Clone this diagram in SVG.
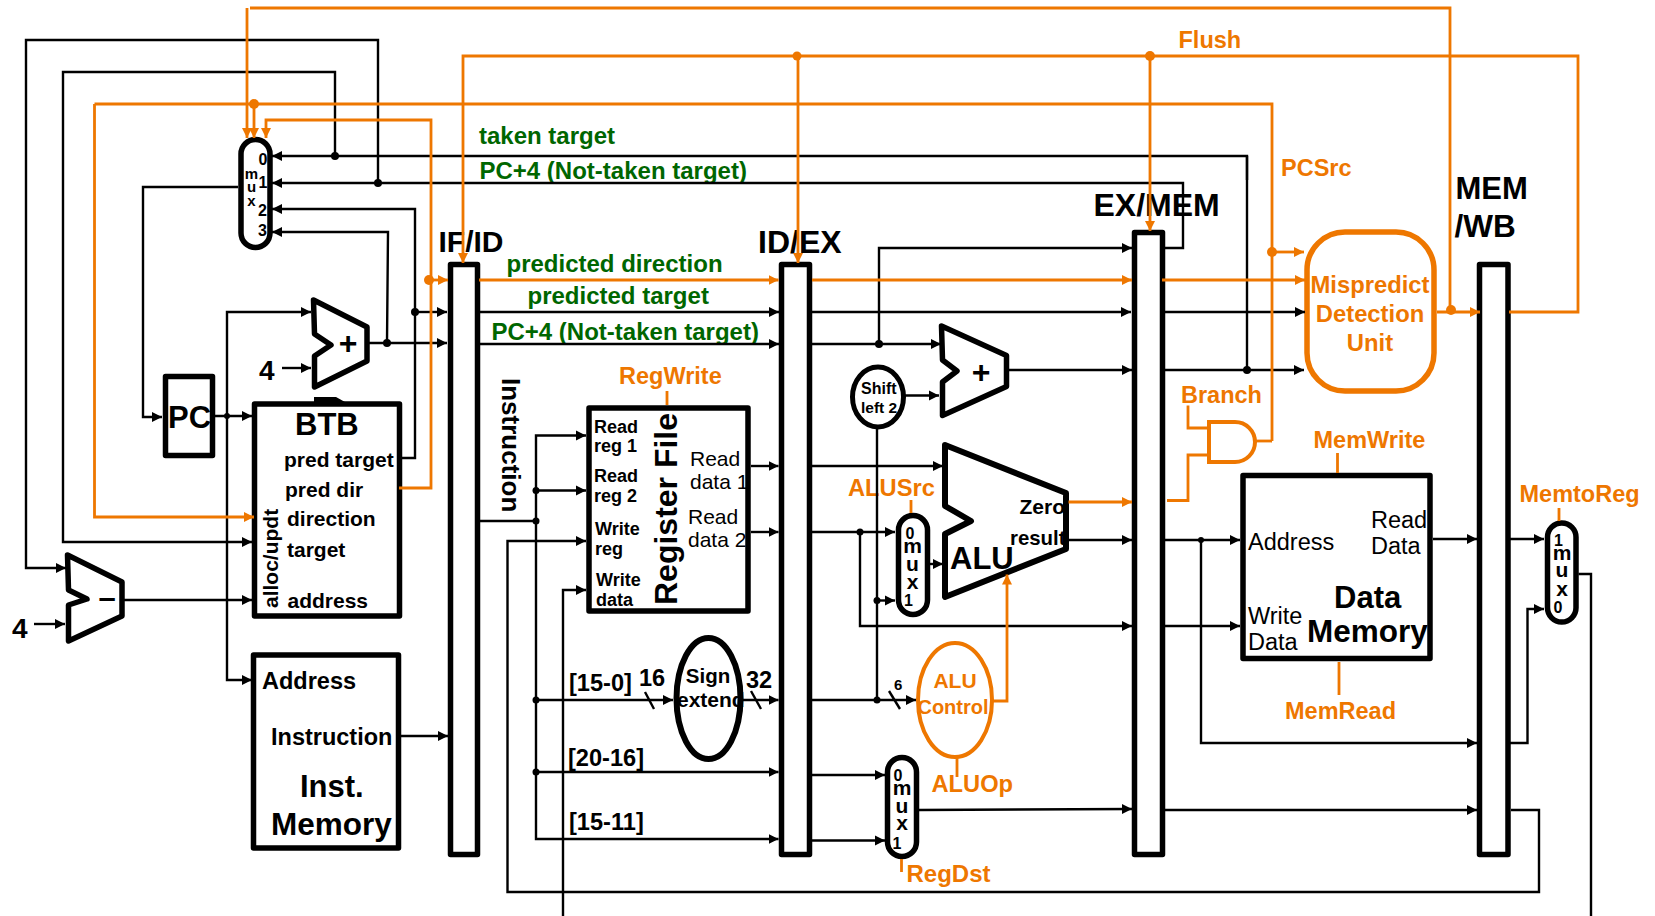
<svg xmlns="http://www.w3.org/2000/svg" width="1655" height="916" viewBox="0 0 1655 916">
<style>
text{font-family:"Liberation Sans",Arial,sans-serif;font-weight:700;fill:#000}
.o{fill:#EE7700}.g{fill:#006600}.r{font-weight:400}.m{text-anchor:middle}
.box{fill:#fff;stroke:#000;stroke-width:5.5;stroke-linejoin:round}
.obox{fill:#fff;stroke:#EE7700;stroke-width:5.5}
.k,.kn{fill:none;stroke:#000;stroke-width:2.4}
.k{marker-end:url(#ka)}
.y,.yn{fill:none;stroke:#EE7700;stroke-width:2.8}
.y{marker-end:url(#ya)}
.kd{fill:#000}.yd{fill:#EE7700}
</style>
<defs>
<marker id="ka" markerUnits="userSpaceOnUse" markerWidth="11" markerHeight="11" refX="10" refY="5.5" orient="auto"><path d="M0,0.5L10,5.5L0,10.5Z" fill="#000"/></marker>
<marker id="ya" markerUnits="userSpaceOnUse" markerWidth="11" markerHeight="11" refX="10" refY="5.5" orient="auto"><path d="M0,0.5L10,5.5L0,10.5Z" fill="#EE7700"/></marker>
</defs>
<rect width="1655" height="916" fill="#fff"/>

<g id="branch-mux"><rect class="box" x="241" y="139.5" width="29" height="108" rx="14.5"/>
<g font-size="16"><text class="m" x="263" y="165">0</text><text class="m" x="263" y="188">1</text><text class="m" x="262.5" y="216">2</text><text class="m" x="262.5" y="236">3</text></g>
<g font-size="15"><text class="m" x="251.5" y="179">m</text><text class="m" x="251.5" y="192">u</text><text class="m" x="251.5" y="206">x</text></g></g>

<g id="pc-adder"><polygon class="box" points="313.5,300 367,327 367,361 314.5,387 314.5,356 331,345 314.5,334"/><text class="m" x="348" y="354" font-size="32">+</text></g>
<g id="four-a"><text x="259" y="380" font-size="28">4</text></g>

<g id="pc"><rect class="box" x="165.5" y="376.5" width="47" height="79"/><text x="168" y="428" font-size="31">PC</text></g>
<g id="btb-mark"><path d="M314,397H336L345,402H314Z" fill="#000"/></g>
<g id="btb"><rect class="box" x="254.5" y="404" width="145" height="212"/>
<text x="295" y="435" font-size="31">BTB</text>
<g font-size="21"><text x="284" y="467">pred target</text><text x="285" y="497">pred dir</text><text x="287" y="526">direction</text><text x="287" y="557">target</text><text x="287.5" y="608">address</text><text transform="translate(278,608) rotate(-90)">alloc/updt</text></g></g>

<g id="sub"><polygon class="box" points="67.5,555 122,582 122,616 68.5,641 68.5,605 87,599 68.5,590"/><text class="m" x="107" y="608" font-size="31">–</text></g>
<g id="four-b"><text x="12" y="638" font-size="28">4</text></g>

<g id="inst-mem"><rect class="box" x="253.5" y="655" width="145" height="193"/>
<text x="262" y="689" font-size="23.5">Address</text><text x="271" y="745" font-size="23.5">Instruction</text><text x="300" y="797" font-size="31">Inst.</text><text x="271" y="835" font-size="31.5">Memory</text></g>

<g id="if-id"><rect class="box" x="450.5" y="264.5" width="27" height="590"/><text x="438.5" y="252" font-size="30">IF/ID</text></g>
<g id="id-ex"><rect class="box" x="781.5" y="264.5" width="28" height="590"/><text x="758" y="253" font-size="32">ID/EX</text></g>
<g id="ex-mem"><rect class="box" x="1134.5" y="232.5" width="28" height="622"/><text x="1093.5" y="216" font-size="32">EX/MEM</text></g>
<g id="mem-wb"><rect class="box" x="1479.5" y="264.5" width="28.5" height="590"/><text x="1455.5" y="199" font-size="31">MEM</text><text x="1454.5" y="237" font-size="31.5">/WB</text></g>

<g id="instruction-label"><text transform="translate(502,378) rotate(90)" font-size="26">Instruction</text></g>

<g id="reg-file"><rect class="box" x="589" y="408" width="159" height="203"/>
<g font-size="18"><text x="594" y="432.5">Read</text><text x="594" y="452">reg 1</text><text x="594" y="482">Read</text><text x="594" y="502">reg 2</text><text x="595" y="534.5">Write</text><text x="595" y="555">reg</text><text x="596" y="586">Write</text><text x="596" y="606">data</text></g>
<text transform="translate(677,605) rotate(-90)" font-size="32">Register File</text>
<g font-size="21"><text class="r" x="690" y="466">Read</text><text class="r" x="690" y="489">data 1</text><text class="r" x="688" y="524">Read</text><text class="r" x="688" y="547">data 2</text></g></g>
<g id="regwrite"><text class="o" x="619" y="384" font-size="23.5">RegWrite</text></g>

<g id="sign-extend"><ellipse cx="708.5" cy="698.5" rx="32" ry="60.5" fill="#fff" stroke="#000" stroke-width="6"/><text class="m" x="708" y="683" font-size="20.5">Sign</text><text x="677" y="707" font-size="21">extend</text></g>
<g id="bit-labels" font-size="23.6"><text x="569" y="691">[15-0]</text><text x="639" y="686">16</text><text x="746" y="688">32</text><text x="568" y="766">[20-16]</text><text x="569" y="829.5">[15-11]</text><text x="894" y="690" font-size="15">6</text></g>

<g id="shift"><ellipse cx="878" cy="397" rx="25.5" ry="30" fill="#fff" stroke="#000" stroke-width="5"/><text x="861" y="394" font-size="16">Shift</text><text x="861" y="413" font-size="15.5">left 2</text></g>
<g id="ex-adder"><polygon class="box" points="941.5,326 1006.5,355.5 1006.5,386.5 942.5,415.5 942.5,382 957,371 942.5,360"/><text class="m" x="981" y="383" font-size="32">+</text></g>
<g id="alu"><polygon class="box" points="945,445 1066,493 1066,549 945,597 945,534 971,521 945,506" style="stroke-width:6"/><text x="950" y="568.5" font-size="31">ALU</text><text x="1019.5" y="514" font-size="21">Zero</text><text x="1010" y="545" font-size="20.4">result</text></g>
<g id="alusrc-mux"><rect class="box" x="898.5" y="515.5" width="29" height="99" rx="14.5"/>
<text class="m" x="910" y="539" font-size="16">0</text><g font-size="21"><text class="m" x="912.5" y="553">m</text><text class="m" x="912.5" y="571">u</text><text class="m" x="912.5" y="589">x</text></g><text class="m" x="908.5" y="606" font-size="16">1</text></g>
<g id="alusrc"><text class="o" x="848" y="496" font-size="23.7">ALUSrc</text></g>
<g id="alu-control"><ellipse cx="955" cy="700" rx="37" ry="57" fill="#fff" stroke="#EE7700" stroke-width="4"/><text class="o m" x="955" y="688" font-size="21">ALU</text><text class="o m" x="953" y="714" font-size="20">Control</text></g>
<g id="aluop"><text class="o" x="931.5" y="792" font-size="23.7">ALUOp</text></g>
<g id="regdst-mux"><rect class="box" x="887.5" y="757.5" width="29" height="99" rx="14.5"/>
<text class="m" x="898" y="781" font-size="16">0</text><g font-size="21"><text class="m" x="902" y="795">m</text><text class="m" x="902" y="813">u</text><text class="m" x="902" y="830">x</text></g><text class="m" x="897" y="849" font-size="16">1</text></g>
<g id="regdst"><text class="o" x="906.5" y="881.5" font-size="24">RegDst</text></g>

<g id="mispredict"><rect class="obox" x="1307" y="232" width="127" height="159" rx="38"/>
<g font-size="23.8"><text class="o m" x="1370" y="292.5">Mispredict</text><text class="o m" x="1370" y="321.5">Detection</text><text class="o m" x="1370" y="350.5">Unit</text></g></g>
<g id="and-gate"><path d="M1209,422H1235A20,20 0 0 1 1235,462H1209Z" fill="#fff" stroke="#EE7700" stroke-width="4"/></g>
<g id="data-mem"><rect class="box" x="1243" y="475.5" width="187" height="183"/>
<g font-size="23.5"><text class="r" x="1248" y="550">Address</text><text class="r" x="1371" y="528">Read</text><text class="r" x="1371" y="554">Data</text><text class="r" x="1248" y="624">Write</text><text class="r" x="1248" y="650">Data</text></g>
<text x="1334" y="607.5" font-size="31">Data</text><text x="1307" y="641.5" font-size="31.5">Memory</text></g>
<g id="wb-mux"><rect class="box" x="1547.5" y="523" width="28.5" height="99" rx="14.2"/>
<text class="m" x="1558.5" y="546" font-size="16">1</text><g font-size="21"><text class="m" x="1562" y="560">m</text><text class="m" x="1562" y="577">u</text><text class="m" x="1562" y="595.5">x</text></g><text class="m" x="1558" y="612.5" font-size="16">0</text></g>

<g id="control-labels" font-size="23.5">
<text class="o" x="1178.5" y="48">Flush</text><text class="o" x="1281" y="175.5">PCSrc</text><text class="o" x="1181" y="402.5">Branch</text><text class="o" x="1313.5" y="448">MemWrite</text><text class="o" x="1285" y="718.5">MemRead</text><text class="o" x="1519.5" y="501.5">MemtoReg</text></g>
<g id="signal-labels" font-size="24">
<text class="g" x="479" y="144">taken target</text><text class="g" x="479.5" y="179">PC+4 (Not-taken target)</text><text class="g" x="506.5" y="272">predicted direction</text><text class="g" x="527.5" y="304">predicted target</text><text class="g" x="491.5" y="340">PC+4 (Not-taken target)</text></g>

<g id="connectors">
<polyline class="k" points="1247,180 1247,156 272,156"/>
<polyline class="kn" points="1247,156 1247,370"/>
<polyline class="k" points="1165,248 1183,248 1183,183 272,183"/>
<polyline class="k" points="378,183 378,40 26,40 26,568 66,568"/>
<polyline class="k" points="335,156 335,72 63,72 63,542 252,542"/>
<polyline class="k" points="402,458 415,458 415,209 272,209"/>
<polyline class="k" points="415,312 447,312"/>
<polyline class="k" points="387,343 388,232 272,232"/>
<polyline class="k" points="367,343 447,343"/>
<polyline class="k" points="238,187 143,187 143,417 162,417"/>
<polyline class="k" points="215,416 252,416"/>
<polyline class="k" points="227,416 227,312 311,312"/>
<polyline class="k" points="227,416 227,680 252,680"/>
<polyline class="k" points="282,368 311,368"/>
<polyline class="k" points="34,624 65,624"/>
<polyline class="k" points="123,600 252,600"/>
<polyline class="k" points="401,736 448,736"/>
<polyline class="k" points="480,312 779,312"/>
<polyline class="k" points="480,344 779,344"/>
<polyline class="k" points="812,312 1131,312"/>
<polyline class="k" points="812,344 941,344"/>
<polyline class="k" points="879,344 879,248 1132,248"/>
<polyline class="k" points="1007,370 1132,370"/>
<polyline class="k" points="905,395.5 939,395.5"/>
<polyline class="kn" points="877,429 877,700"/>
<polyline class="kn" points="480,521 536,521"/>
<polyline class="k" points="536,521 536,435.5 586,435.5"/>
<polyline class="k" points="536,490.5 586,490.5"/>
<polyline class="k" points="536,521 536,839 778.5,839"/>
<polyline class="k" points="536,700 673,700"/>
<polyline class="k" points="536,772 778.5,772"/>
<polyline class="k" points="1511,810 1539,810 1539,892 507.5,892 507.5,541 586,541"/>
<polyline class="k" points="563,916 563,590 586,590"/>
<polyline class="k" points="751,466 778.5,466"/>
<polyline class="k" points="751,532 778.5,532"/>
<polyline class="kn" points="645,692 654,709"/>
<polyline class="kn" points="751,691 761,709"/>
<polyline class="k" points="743,700 778.5,700"/>
<polyline class="k" points="812,466 943,466"/>
<polyline class="k" points="812,532 895,532"/>
<polyline class="k" points="860,532 860,626 1132,626"/>
<polyline class="k" points="812,700 916,700"/>
<polyline class="kn" points="889,691 900,709"/>
<polyline class="k" points="877,600.5 895,600.5"/>
<polyline class="k" points="930,564 943,564"/>
<polyline class="k" points="812,775 885,775"/>
<polyline class="k" points="812,840.5 885,840.5"/>
<polyline class="k" points="919,810 1132,809"/>
<polyline class="k" points="1066,540 1132,540"/>
<polyline class="k" points="1165,312 1305,312"/>
<polyline class="k" points="1165,370 1304,370"/>
<polyline class="k" points="1165,540 1240,540"/>
<polyline class="k" points="1165,626 1240,626"/>
<polyline class="k" points="1201,540 1201,743 1477,743"/>
<polyline class="k" points="1165,810 1477,810"/>
<polyline class="k" points="1433,539 1477,539"/>
<polyline class="k" points="1510,539 1544,539"/>
<polyline class="k" points="1510,743 1527.5,743 1527.5,609 1544,609"/>
<polyline class="kn" points="1578.5,574 1591,574 1591,916"/>
<g class="kd"><circle cx="335" cy="156" r="4"/><circle cx="378" cy="183" r="4"/><circle cx="415" cy="312" r="4"/><circle cx="387" cy="343" r="4"/><circle cx="227" cy="416" r="3"/><circle cx="879" cy="344" r="4"/><circle cx="536" cy="490.5" r="3.5"/><circle cx="536" cy="521" r="3.5"/><circle cx="536" cy="700" r="3.5"/><circle cx="536" cy="772" r="3.5"/><circle cx="860" cy="532" r="3.5"/><circle cx="877" cy="600.5" r="3.5"/><circle cx="877" cy="700" r="3.5"/><circle cx="1247" cy="370" r="4"/><circle cx="1201" cy="540" r="3"/></g>
<polyline class="yn" points="250,8 1450,8 1450,310"/>
<polyline class="y" points="247,8 247,138"/>
<polyline class="y" points="254,104 254,138"/>
<polyline class="yn" points="1272,441 1272,104 94.5,104"/>
<polyline class="y" points="94.5,104 94.5,517 254,517"/>
<polyline class="y" points="399,488 431,488 431,120 266,120 266,138"/>
<polyline class="y" points="429,280 448,280"/>
<polyline class="y" points="1509,312 1578,312 1578,56 463,56 463,263"/>
<polyline class="y" points="798,56 798,263"/>
<polyline class="y" points="1150,56 1150,231"/>
<polyline class="y" points="479,280 778.5,280"/>
<polyline class="y" points="812,280 1132,280"/>
<polyline class="y" points="1162,280 1305,280"/>
<polyline class="y" points="1272,252 1304,252"/>
<polyline class="y" points="1437,312 1480,312"/>
<polyline class="y" points="1068.5,502 1132,502"/>
<polyline class="yn" points="1167,500.5 1188,500.5 1188,455 1208,455"/>
<polyline class="yn" points="1188,405.5 1188,428 1208,428"/>
<polyline class="yn" points="1255,441 1272,441"/>
<polyline class="yn" points="667,391 667,405"/>
<polyline class="yn" points="911,500 911,513"/>
<polyline class="y" points="993,701 1007,701 1007,574.5"/>
<polyline class="yn" points="957,758 957,777"/>
<polyline class="yn" points="901.5,859 901.5,872"/>
<polyline class="yn" points="1337.5,453 1337.5,473"/>
<polyline class="yn" points="1339,662 1339,695"/>
<polyline class="yn" points="1559,508 1559,521"/>
<g class="yd"><circle cx="254" cy="104" r="5"/><circle cx="429" cy="280" r="5"/><circle cx="797" cy="56" r="4.5"/><circle cx="1150" cy="56" r="5"/><circle cx="1272" cy="252" r="5"/><circle cx="1451" cy="310" r="5"/></g>
</g>
</svg>
